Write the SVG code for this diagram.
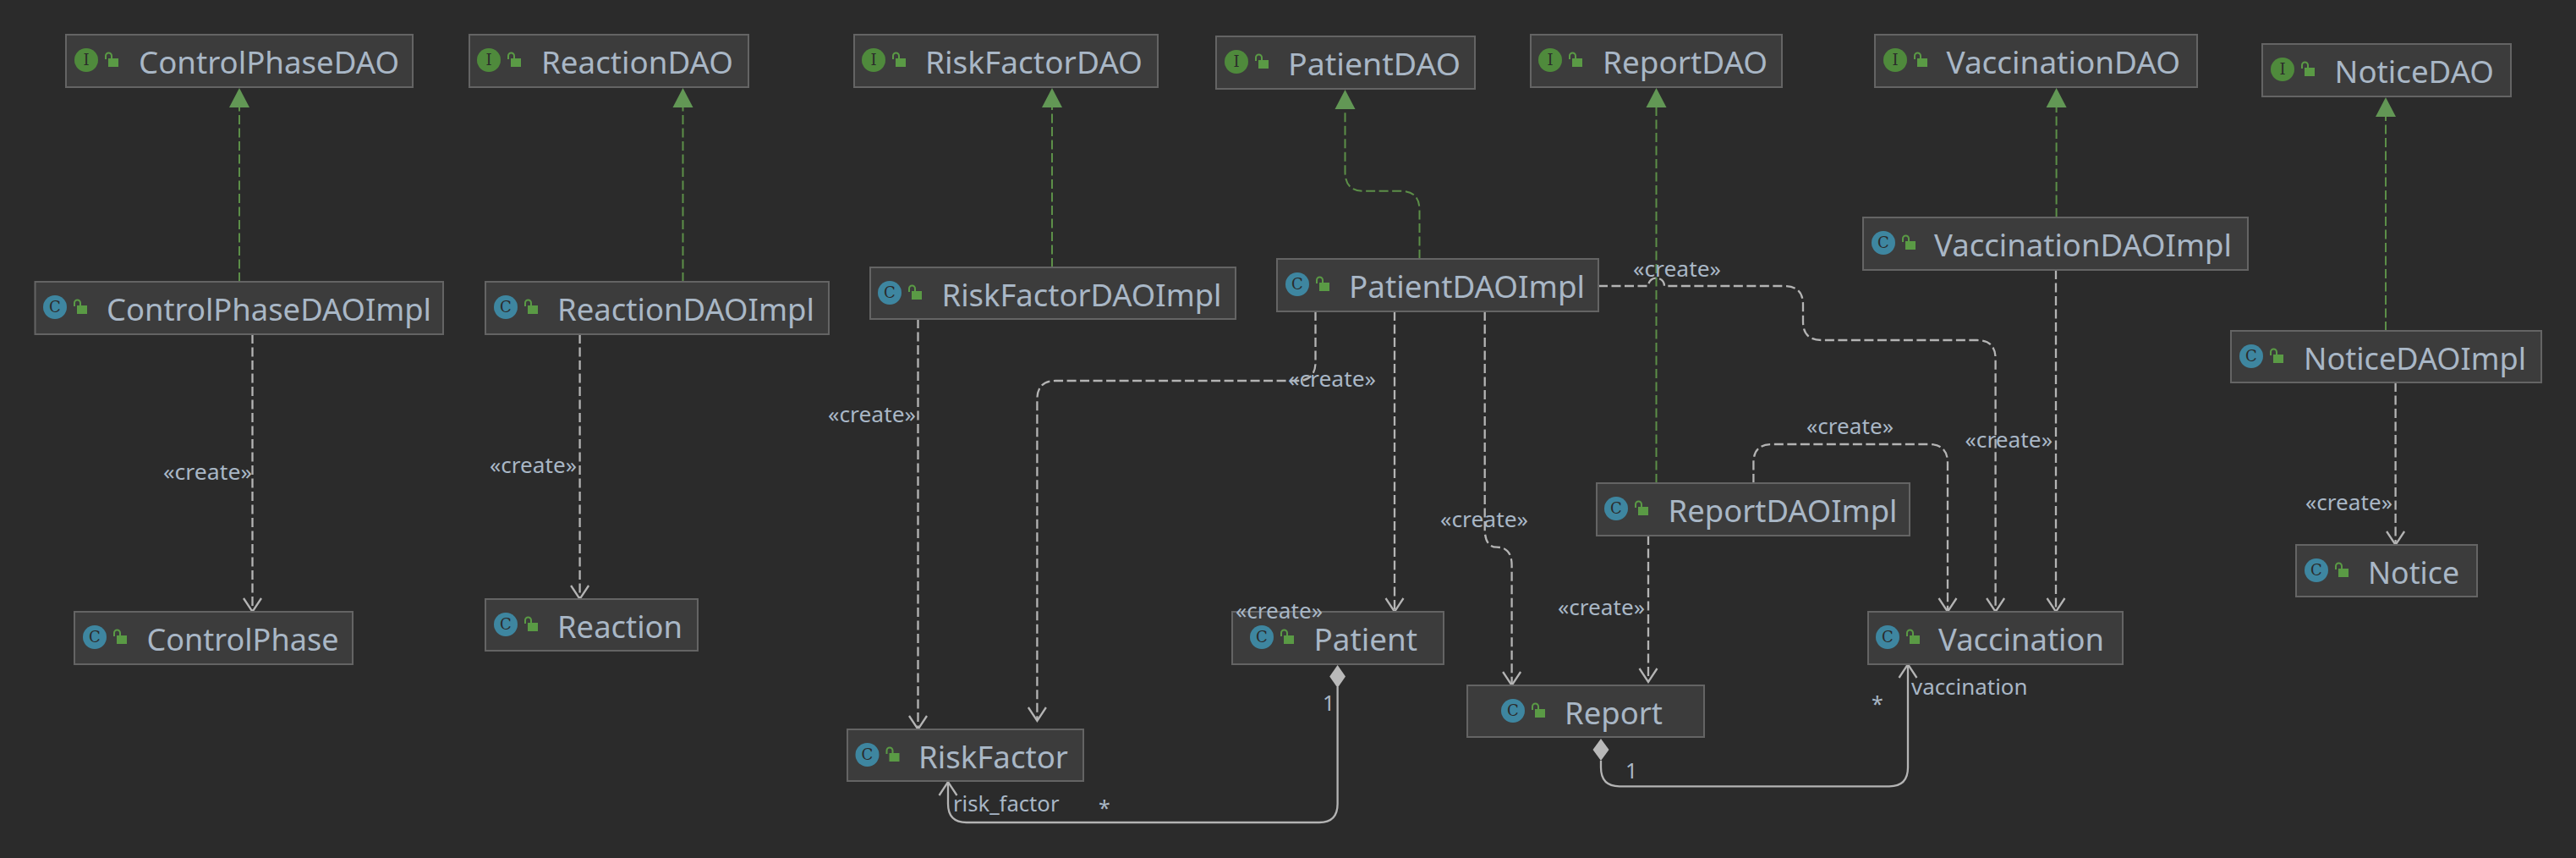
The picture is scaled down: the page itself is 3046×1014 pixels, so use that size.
<svg xmlns="http://www.w3.org/2000/svg" xmlns:xlink="http://www.w3.org/1999/xlink" width="3046" height="1014" viewBox="0 0 3046 1014">
<style>
.box{fill:#3c3c3c;stroke:#646464;stroke-width:2}
.name{font-family:"Noto Sans","DejaVu Sans",sans-serif;font-size:37px;fill:#a9b7c6}
.lbl{font-family:"Noto Sans","DejaVu Sans",sans-serif;font-size:25px;fill:#a9b7c6}
.g{fill:none;stroke:#5c8f48;stroke-width:2;stroke-dasharray:11 4.500}
.d{fill:none;stroke:#b4b4b4;stroke-width:2.300;stroke-dasharray:11 4.500}
.s{fill:none;stroke:#b4b4b4;stroke-width:2.300}
.dd{fill:#b9b9b9}
.tri{fill:#629755}
.ci{fill:#3e86a0}
.ii{fill:#4f8a3c}
.gl{font-family:"DejaVu Serif",serif;font-size:18px;fill:#2b2b2b;text-anchor:middle}
.lock{fill:#5a9a45}
.sh{fill:none;stroke:#5a9a45;stroke-width:2}
</style>
<defs>
<marker id="open" markerUnits="userSpaceOnUse" markerWidth="30" markerHeight="24" refX="20" refY="12" orient="auto"><path d="M4 1.500L20 12L4 22.500" fill="none" stroke="#b4b4b4" stroke-width="2.300"/></marker>
<g id="lk"><rect class="lock" x="26" y="-2" width="12" height="10"/><path class="sh" d="M23 -1V-5a3.500 3.500 0 0 1 7 0V-2"/></g>
</defs>
<rect width="3046" height="1014" fill="#2b2b2b"/>
<g id="connectors">
<path class="g" d="M283 333V124"/>
<path class="g" d="M807.500 333V124"/>
<path class="g" d="M1244 316V124"/>
<path class="g" d="M1678.500 306V248Q1678.500 225.700 1656 225.700H1612Q1590.500 225.700 1590.500 203V126"/>
<path class="g" d="M1958.500 571V124"/>
<path class="g" d="M2431.600 257V124"/>
<path class="g" d="M2821 391V136"/>
<polygon class="tri" points="283,104 271,127 295,127"/>
<polygon class="tri" points="807.500,104 795.500,127 819.500,127"/>
<polygon class="tri" points="1244,104 1232,127 1256,127"/>
<polygon class="tri" points="1590.500,106 1578.500,129 1602.500,129"/>
<polygon class="tri" points="1958.500,104 1946.500,127 1970.500,127"/>
<polygon class="tri" points="2431.600,104 2419.600,127 2443.600,127"/>
<polygon class="tri" points="2821,115 2809,138 2833,138"/>
<path class="d" marker-end="url(#open)" d="M298.500 395V723"/>
<path class="d" marker-end="url(#open)" d="M685.600 395V708"/>
<path class="d" marker-end="url(#open)" d="M1085.500 377V862"/>
<path class="d" marker-end="url(#open)" d="M1555.500 368V428Q1555.500 450 1534 450H1248Q1226.400 450 1226.400 472V852"/>
<path class="d" marker-end="url(#open)" d="M1649 368V723"/>
<path class="d" marker-end="url(#open)" d="M1755.700 368V625Q1755.700 646.700 1770 646.700Q1787.600 646.700 1787.600 668V810"/>
<path class="d" marker-end="url(#open)" d="M1949 633V806"/>
<path class="d" marker-end="url(#open)" d="M1890 338H1949A9.500 9.500 0 0 1 1968 338H2110Q2132 338 2132 360V380Q2132 402 2154 402H2338Q2359.600 402 2359.600 424V723"/>
<path class="d" marker-end="url(#open)" d="M2073.400 571V547Q2073.400 525 2095 525H2281Q2303 525 2303 547V723"/>
<path class="d" marker-end="url(#open)" d="M2431 319V723"/>
<path class="d" marker-end="url(#open)" d="M2832.600 452V644"/>
<path class="s" marker-end="url(#open)" d="M1581.600 812V950Q1581.600 972 1560 972H1143Q1121 972 1121 950V924"/>
<polygon class="dd" points="1581.600,786 1591,799.500 1581.600,813 1572.200,799.500"/>
<path class="s" marker-end="url(#open)" d="M1893 899V907Q1893 929.300 1915 929.300H2234Q2256 929.300 2256 907V785"/>
<polygon class="dd" points="1893,873 1902.500,886 1893,899 1883.500,886"/>
</g>
<g id="ControlPhaseDAO"><rect class="box" x="78" y="41" width="410" height="62"/><circle class="ii" cx="102" cy="71" r="14"/><text class="gl" x="102" y="77">I</text><use xlink:href="#lk" href="#lk" x="102" y="71"/><text class="name" x="164" y="87" textLength="308" lengthAdjust="spacingAndGlyphs">ControlPhaseDAO</text></g>
<g id="ReactionDAO"><rect class="box" x="555" y="41" width="330" height="62"/><circle class="ii" cx="578" cy="71" r="14"/><text class="gl" x="578" y="77">I</text><use xlink:href="#lk" href="#lk" x="578" y="71"/><text class="name" x="640" y="87" textLength="227" lengthAdjust="spacingAndGlyphs">ReactionDAO</text></g>
<g id="RiskFactorDAO"><rect class="box" x="1010" y="41" width="359" height="62"/><circle class="ii" cx="1033" cy="71" r="14"/><text class="gl" x="1033" y="77">I</text><use xlink:href="#lk" href="#lk" x="1033" y="71"/><text class="name" x="1094" y="87" textLength="257" lengthAdjust="spacingAndGlyphs">RiskFactorDAO</text></g>
<g id="PatientDAO"><rect class="box" x="1438" y="43" width="306" height="62"/><circle class="ii" cx="1462" cy="73" r="14"/><text class="gl" x="1462" y="79">I</text><use xlink:href="#lk" href="#lk" x="1462" y="73"/><text class="name" x="1523" y="89" textLength="204" lengthAdjust="spacingAndGlyphs">PatientDAO</text></g>
<g id="ReportDAO"><rect class="box" x="1810" y="41" width="297" height="62"/><circle class="ii" cx="1833" cy="71" r="14"/><text class="gl" x="1833" y="77">I</text><use xlink:href="#lk" href="#lk" x="1833" y="71"/><text class="name" x="1895" y="87" textLength="195" lengthAdjust="spacingAndGlyphs">ReportDAO</text></g>
<g id="VaccinationDAO"><rect class="box" x="2217" y="41" width="381" height="62"/><circle class="ii" cx="2241" cy="71" r="14"/><text class="gl" x="2241" y="77">I</text><use xlink:href="#lk" href="#lk" x="2241" y="71"/><text class="name" x="2301.500" y="87" textLength="276.500" lengthAdjust="spacingAndGlyphs">VaccinationDAO</text></g>
<g id="NoticeDAO"><rect class="box" x="2675" y="52" width="294" height="62"/><circle class="ii" cx="2699" cy="82" r="14"/><text class="gl" x="2699" y="88">I</text><use xlink:href="#lk" href="#lk" x="2699" y="82"/><text class="name" x="2760.500" y="98" textLength="188.500" lengthAdjust="spacingAndGlyphs">NoticeDAO</text></g>
<g id="ControlPhaseDAOImpl"><rect class="box" x="41.500" y="333" width="482.500" height="62"/><circle class="ci" cx="65" cy="363" r="14"/><text class="gl" x="65" y="369">C</text><use xlink:href="#lk" href="#lk" x="65" y="363"/><text class="name" x="126" y="379" textLength="384" lengthAdjust="spacingAndGlyphs">ControlPhaseDAOImpl</text></g>
<g id="ReactionDAOImpl"><rect class="box" x="574" y="333" width="406" height="62"/><circle class="ci" cx="598" cy="363" r="14"/><text class="gl" x="598" y="369">C</text><use xlink:href="#lk" href="#lk" x="598" y="363"/><text class="name" x="659" y="379" textLength="304" lengthAdjust="spacingAndGlyphs">ReactionDAOImpl</text></g>
<g id="RiskFactorDAOImpl"><rect class="box" x="1029" y="316" width="432" height="61"/><circle class="ci" cx="1052" cy="346" r="14"/><text class="gl" x="1052" y="352">C</text><use xlink:href="#lk" href="#lk" x="1052" y="346"/><text class="name" x="1113.500" y="362" textLength="331" lengthAdjust="spacingAndGlyphs">RiskFactorDAOImpl</text></g>
<g id="PatientDAOImpl"><rect class="box" x="1510" y="306" width="380" height="62"/><circle class="ci" cx="1534" cy="336" r="14"/><text class="gl" x="1534" y="342">C</text><use xlink:href="#lk" href="#lk" x="1534" y="336"/><text class="name" x="1595" y="352" textLength="279" lengthAdjust="spacingAndGlyphs">PatientDAOImpl</text></g>
<g id="VaccinationDAOImpl"><rect class="box" x="2203" y="257" width="455" height="62"/><circle class="ci" cx="2227" cy="287" r="14"/><text class="gl" x="2227" y="293">C</text><use xlink:href="#lk" href="#lk" x="2227" y="287"/><text class="name" x="2287" y="303" textLength="352" lengthAdjust="spacingAndGlyphs">VaccinationDAOImpl</text></g>
<g id="NoticeDAOImpl"><rect class="box" x="2638" y="391" width="367" height="61"/><circle class="ci" cx="2662" cy="421" r="14"/><text class="gl" x="2662" y="427">C</text><use xlink:href="#lk" href="#lk" x="2662" y="421"/><text class="name" x="2724" y="437" textLength="263" lengthAdjust="spacingAndGlyphs">NoticeDAOImpl</text></g>
<g id="ReportDAOImpl"><rect class="box" x="1888" y="571" width="370" height="62"/><circle class="ci" cx="1911" cy="601" r="14"/><text class="gl" x="1911" y="607">C</text><use xlink:href="#lk" href="#lk" x="1911" y="601"/><text class="name" x="1972.500" y="617" textLength="271" lengthAdjust="spacingAndGlyphs">ReportDAOImpl</text></g>
<g id="ControlPhase"><rect class="box" x="88" y="723" width="329" height="62"/><circle class="ci" cx="112" cy="753" r="14"/><text class="gl" x="112" y="759">C</text><use xlink:href="#lk" href="#lk" x="112" y="753"/><text class="name" x="173.500" y="769" textLength="227" lengthAdjust="spacingAndGlyphs">ControlPhase</text></g>
<g id="Reaction"><rect class="box" x="574" y="708" width="251" height="61"/><circle class="ci" cx="598" cy="738" r="14"/><text class="gl" x="598" y="744">C</text><use xlink:href="#lk" href="#lk" x="598" y="738"/><text class="name" x="659" y="754" textLength="148" lengthAdjust="spacingAndGlyphs">Reaction</text></g>
<g id="RiskFactor"><rect class="box" x="1002" y="862" width="279" height="61"/><circle class="ci" cx="1025.500" cy="892" r="14"/><text class="gl" x="1025.500" y="898">C</text><use xlink:href="#lk" href="#lk" x="1025.500" y="892"/><text class="name" x="1086" y="908" textLength="177" lengthAdjust="spacingAndGlyphs">RiskFactor</text></g>
<g id="Patient"><rect class="box" x="1457" y="723" width="250" height="62"/><circle class="ci" cx="1492" cy="753" r="14"/><text class="gl" x="1492" y="759">C</text><use xlink:href="#lk" href="#lk" x="1492" y="753"/><text class="name" x="1553.500" y="769" textLength="122.500" lengthAdjust="spacingAndGlyphs">Patient</text></g>
<g id="Report"><rect class="box" x="1735" y="810" width="280" height="61"/><circle class="ci" cx="1789" cy="840" r="14"/><text class="gl" x="1789" y="846">C</text><use xlink:href="#lk" href="#lk" x="1789" y="840"/><text class="name" x="1850" y="856" textLength="116" lengthAdjust="spacingAndGlyphs">Report</text></g>
<g id="Vaccination"><rect class="box" x="2209" y="723" width="301" height="62"/><circle class="ci" cx="2232" cy="753" r="14"/><text class="gl" x="2232" y="759">C</text><use xlink:href="#lk" href="#lk" x="2232" y="753"/><text class="name" x="2292" y="769" textLength="196" lengthAdjust="spacingAndGlyphs">Vaccination</text></g>
<g id="Notice"><rect class="box" x="2715" y="644" width="214" height="61"/><circle class="ci" cx="2739" cy="674" r="14"/><text class="gl" x="2739" y="680">C</text><use xlink:href="#lk" href="#lk" x="2739" y="674"/><text class="name" x="2800" y="690" textLength="108" lengthAdjust="spacingAndGlyphs">Notice</text></g>
<g id="labels">
<text class="lbl" x="193" y="567" textLength="105" lengthAdjust="spacingAndGlyphs">«create»</text>
<text class="lbl" x="579" y="559" textLength="103" lengthAdjust="spacingAndGlyphs">«create»</text>
<text class="lbl" x="979" y="499" textLength="104" lengthAdjust="spacingAndGlyphs">«create»</text>
<text class="lbl" x="1523" y="457" textLength="104" lengthAdjust="spacingAndGlyphs">«create»</text>
<text class="lbl" x="1931" y="327" textLength="104" lengthAdjust="spacingAndGlyphs">«create»</text>
<text class="lbl" x="1703" y="623" textLength="104" lengthAdjust="spacingAndGlyphs">«create»</text>
<text class="lbl" x="1461" y="731" textLength="103" lengthAdjust="spacingAndGlyphs">«create»</text>
<text class="lbl" x="1842" y="727" textLength="103" lengthAdjust="spacingAndGlyphs">«create»</text>
<text class="lbl" x="2136" y="513" textLength="103" lengthAdjust="spacingAndGlyphs">«create»</text>
<text class="lbl" x="2323.500" y="529" textLength="103.500" lengthAdjust="spacingAndGlyphs">«create»</text>
<text class="lbl" x="2726" y="603" textLength="103" lengthAdjust="spacingAndGlyphs">«create»</text>
<text class="lbl" x="1564" y="840">1</text>
<text class="lbl" x="1127" y="959" textLength="125.500" lengthAdjust="spacingAndGlyphs">risk_factor</text>
<text class="lbl" x="1299" y="964">*</text>
<text class="lbl" x="1922" y="920">1</text>
<text class="lbl" x="2260" y="821" textLength="137.500" lengthAdjust="spacingAndGlyphs">vaccination</text>
<text class="lbl" x="2213" y="841">*</text>
</g>
</svg>
